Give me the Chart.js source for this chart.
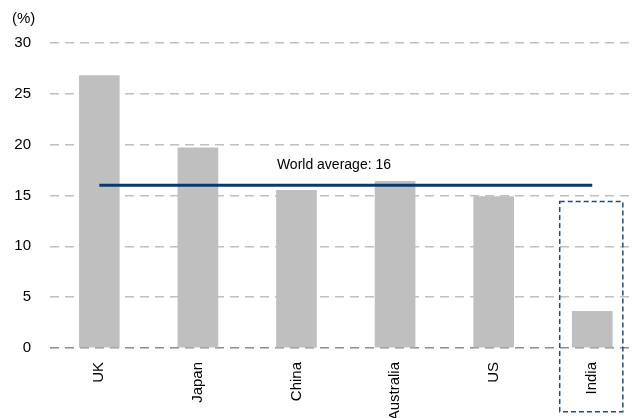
<!DOCTYPE html>
<html>
<head>
<meta charset="utf-8">
<script src="https://cdn.jsdelivr.net/npm/chart.js@4"></script>
<style>
  html, body { margin: 0; padding: 0; background: #fff; overflow: hidden; }
  #wrap { position: relative; width: 632px; height: 418px; }
</style>
</head>
<body>
<div id="wrap"><canvas id="chart"></canvas></div>
<script>
// Data
const countries = ['UK', 'Japan', 'China', 'Australia', 'US', 'India'];
const shares = [26.8, 19.7, 15.5, 16.4, 14.9, 3.6];
const worldAverage = 16;
const yTicks = [0, 5, 10, 15, 20, 25, 30];
const avgLabel = 'World average: ' + worldAverage;
const unitLabel = '(%)';

const FONT = '"Liberation Sans", Arial, sans-serif';

// Extra text + highlight box for India
const annotations = {
    id: 'annotations',
    afterDatasetsDraw(chart) {
        const { ctx, scales: { x, y } } = chart;
        ctx.save();

        // unit label
        ctx.fillStyle = '#000';
        ctx.font = '15px ' + FONT;
        ctx.textAlign = 'left';
        ctx.textBaseline = 'middle';
        ctx.fillText(unitLabel, 12, 19);

        // world average label
        ctx.font = '14px ' + FONT;
        ctx.textAlign = 'center';
        ctx.fillText(avgLabel, x.getPixelForValue(2.38), y.getPixelForValue(worldAverage + 2));

        // dashed box round India
        const i = countries.indexOf('India');
        const left = x.getPixelForValue(i - 0.33);
        const right = x.getPixelForValue(i + 0.31);
        const top = y.getPixelForValue(14.4);
        const bottom = y.getPixelForValue(-6.26);
        ctx.strokeStyle = '#1f4e79';
        ctx.lineWidth = 1.5;
        ctx.setLineDash([5, 3]);
        ctx.strokeRect(left, top, right - left, bottom - top);
        ctx.restore();
    }
};

const ctx = document.getElementById('chart').getContext('2d');
new Chart(ctx, {
    data: {
        datasets: [
            {
                type: 'line',
                data: countries.map((c, i) => ({ x: i, y: worldAverage })),
                borderColor: '#0b3a6a',
                borderWidth: 3,
                pointRadius: 0,
                fill: false,
                order: 0
            },
            {
                type: 'bar',
                data: shares.map((v, i) => ({ x: i, y: v })),
                backgroundColor: '#bfbfbf',
                barThickness: 40,
                order: 1
            }
        ]
    },
    options: {
        responsive: true,
        maintainAspectRatio: false,
        animation: false,
        layout: { padding: { top: 43, right: 0, left: 0, bottom: 0 } },
        plugins: { legend: { display: false }, tooltip: { enabled: false } },
        scales: {
            x: {
                type: 'linear',
                offset: false,
                min: -0.5,
                max: 5.403,
                afterBuildTicks: (scale) => { scale.ticks = countries.map((c, i) => ({ value: i })); },
                afterFit: (scale) => { scale.height = 70; },
                grid: { display: false, drawTicks: false },
                border: { display: false },
                ticks: {
                    autoSkip: false,
                    maxRotation: 90,
                    minRotation: 90,
                    padding: 14,
                    color: '#000',
                    font: { family: FONT, size: 15 },
                    callback: (v) => countries[v] || ''
                }
            },
            y: {
                min: 0,
                max: 30,
                afterBuildTicks: (scale) => { scale.ticks = yTicks.map(v => ({ value: v })); },
                afterFit: (scale) => { scale.width = 50; },
                border: { display: false, dash: [9, 6] },
                grid: {
                    drawTicks: false,
                    color: (c) => c.tick && c.tick.value === 0 ? '#8c8c8c' : '#c0c0c0',
                    lineWidth: 1.5
                },
                ticks: {
                    padding: 19,
                    color: '#000',
                    font: { family: FONT, size: 15 }
                }
            }
        }
    },
    plugins: [annotations]
});
</script>
</body>
</html>
